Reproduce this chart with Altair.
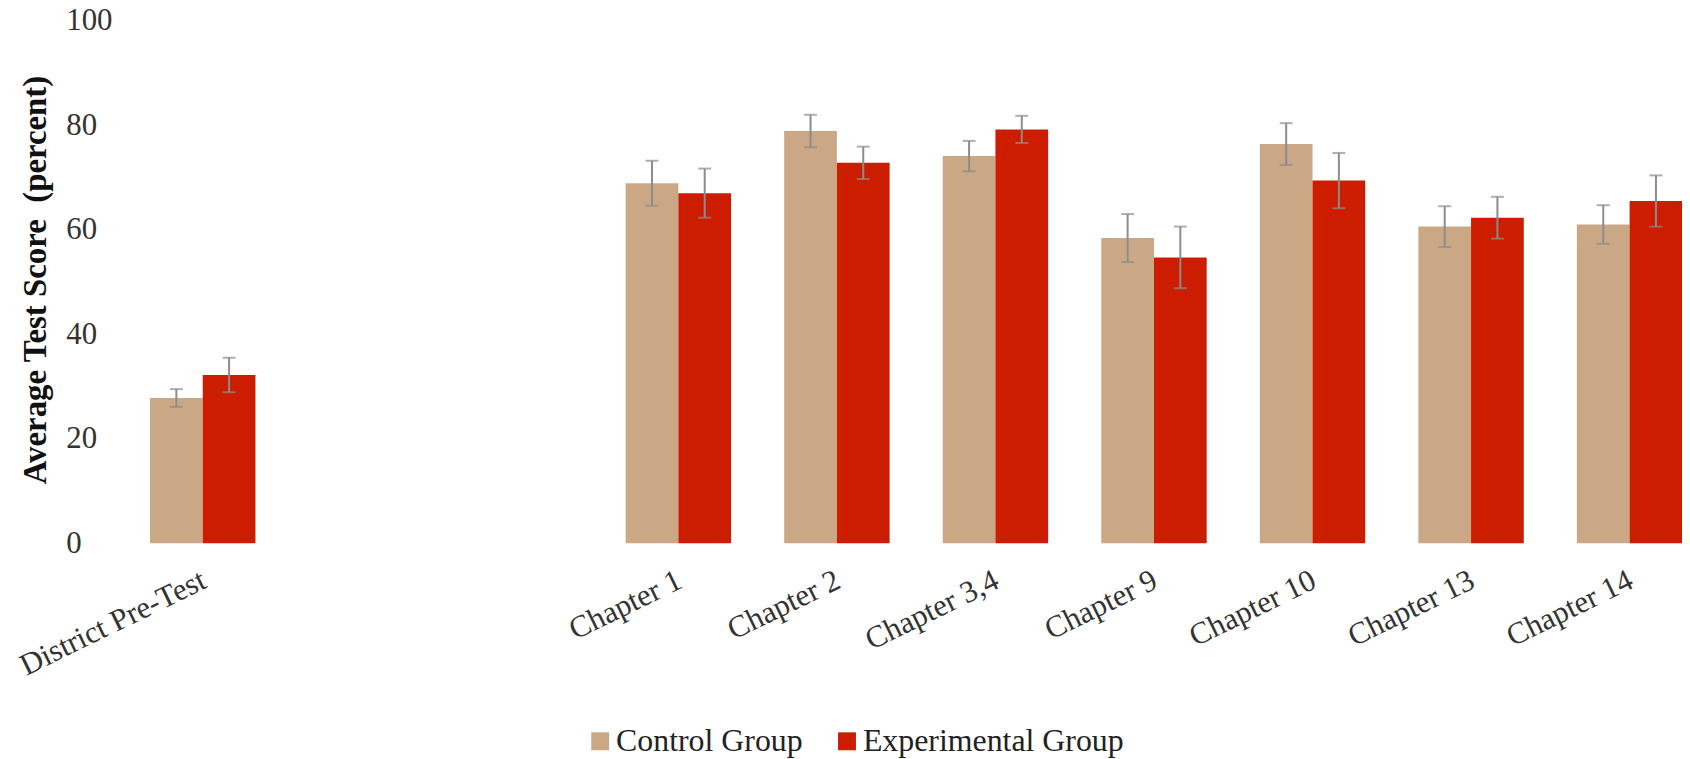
import altair as alt
import pandas as pd

# ---- data ----
categories = ["District Pre-Test", "Chapter 1", "Chapter 2", "Chapter 3,4",
              "Chapter 9", "Chapter 10", "Chapter 13", "Chapter 14"]
# axis slots: two empty slots between the pre-test and the chapters
axis_slots = ["District Pre-Test", " ", "  ", "Chapter 1", "Chapter 2", "Chapter 3,4",
              "Chapter 9", "Chapter 10", "Chapter 13", "Chapter 14"]
groups = ["Control Group", "Experimental Group"]
control_mean = [27.8, 68.9, 78.9, 74.1, 58.4, 76.4, 60.6, 61.0]
control_err = [1.7, 4.3, 3.1, 2.9, 4.6, 4.0, 3.9, 3.7]
experimental_mean = [32.2, 67.0, 72.8, 79.2, 54.7, 69.4, 62.3, 65.5]
experimental_err = [3.3, 4.7, 3.1, 2.6, 5.9, 5.3, 4.0, 4.9]
y_ticks = [0, 20, 40, 60, 80, 100]

rows = []
for i, c in enumerate(categories):
    rows.append({"category": c, "group": groups[0], "mean": control_mean[i], "err": control_err[i]})
    rows.append({"category": c, "group": groups[1], "mean": experimental_mean[i], "err": experimental_err[i]})
df = pd.DataFrame(rows)
df["low"] = df["mean"] - df["err"]
df["high"] = df["mean"] + df["err"]

FONT = "Liberation Serif"
TAN = "#CAA886"
RED = "#CC1D00"
ERR = "#8C8C8C"

xscale = alt.Scale(domain=axis_slots, range=[0, 1593], paddingInner=0.335, paddingOuter=0.1675)
yscale = alt.Scale(domain=[0, 100], nice=False)

x_axis = alt.Axis(title=None, labelAngle=-26, labelAlign="right", labelBaseline="top",
                  labelFont=FONT, labelFontSize=31, labelColor="#333333",
                  domain=False, ticks=False, tickSize=0, labelPadding=22,
                  labelOverlap=False, labelBound=False, labelLimit=0, labelOffset=-5)
y_axis = alt.Axis(title="Average Test Score \u00a0(percent)", values=y_ticks,
                  grid=False, domain=False, ticks=False, tickSize=0,
                  labelAlign="left", labelBaseline="middle", labelPadding=58,
                  labelFont=FONT, labelFontSize=31, labelColor="#333333",
                  titleFont=FONT, titleFontSize=33, titleFontWeight="bold",
                  titleColor="#111111", titleAngle=270, titleAlign="center",
                  titleBaseline="middle", titleX=-88, titleY=260)

x_enc = alt.X("category:N", scale=xscale, sort=axis_slots, axis=x_axis)
xo_enc = alt.XOffset("group:N", scale=alt.Scale(domain=groups), sort=groups)

bars = alt.Chart(df).mark_bar().encode(
    x=x_enc,
    xOffset=xo_enc,
    y=alt.Y("mean:Q", scale=yscale, axis=y_axis),
    color=alt.Color("group:N", scale=alt.Scale(domain=groups, range=[TAN, RED]),
                    legend=alt.Legend(orient="none", legendX=463, legendY=708,
                                      direction="horizontal", columns=2, title=None,
                                      symbolType="square", symbolSize=324,
                                      symbolStrokeWidth=0, labelFont=FONT,
                                      labelFontSize=32, labelColor="#222222",
                                      labelOffset=0, columnPadding=28, padding=0,
                                      labelLimit=0)),
)

stems = alt.Chart(df).mark_rule(color=ERR, strokeWidth=2).encode(
    x=x_enc,
    xOffset=xo_enc,
    y=alt.Y("low:Q", scale=yscale, axis=y_axis),
    y2="high:Q",
)
caps_low = alt.Chart(df).mark_tick(color=ERR, thickness=2, size=13, orient="horizontal").encode(
    x=x_enc,
    xOffset=xo_enc,
    y=alt.Y("low:Q", scale=yscale, axis=y_axis),
)
caps_high = alt.Chart(df).mark_tick(color=ERR, thickness=2, size=13, orient="horizontal").encode(
    x=x_enc,
    xOffset=xo_enc,
    y=alt.Y("high:Q", scale=yscale, axis=y_axis),
)

chart = alt.layer(bars, stems, caps_low, caps_high).properties(
    width=1566, height=525,
    autosize=alt.AutoSizeParams(type="none"),
    padding={"left": 116, "top": 11, "right": 0, "bottom": 214},
    background="white",
).configure_view(stroke=None)

chart.save("out.html", embed_options={"renderer": "svg", "actions": False})
